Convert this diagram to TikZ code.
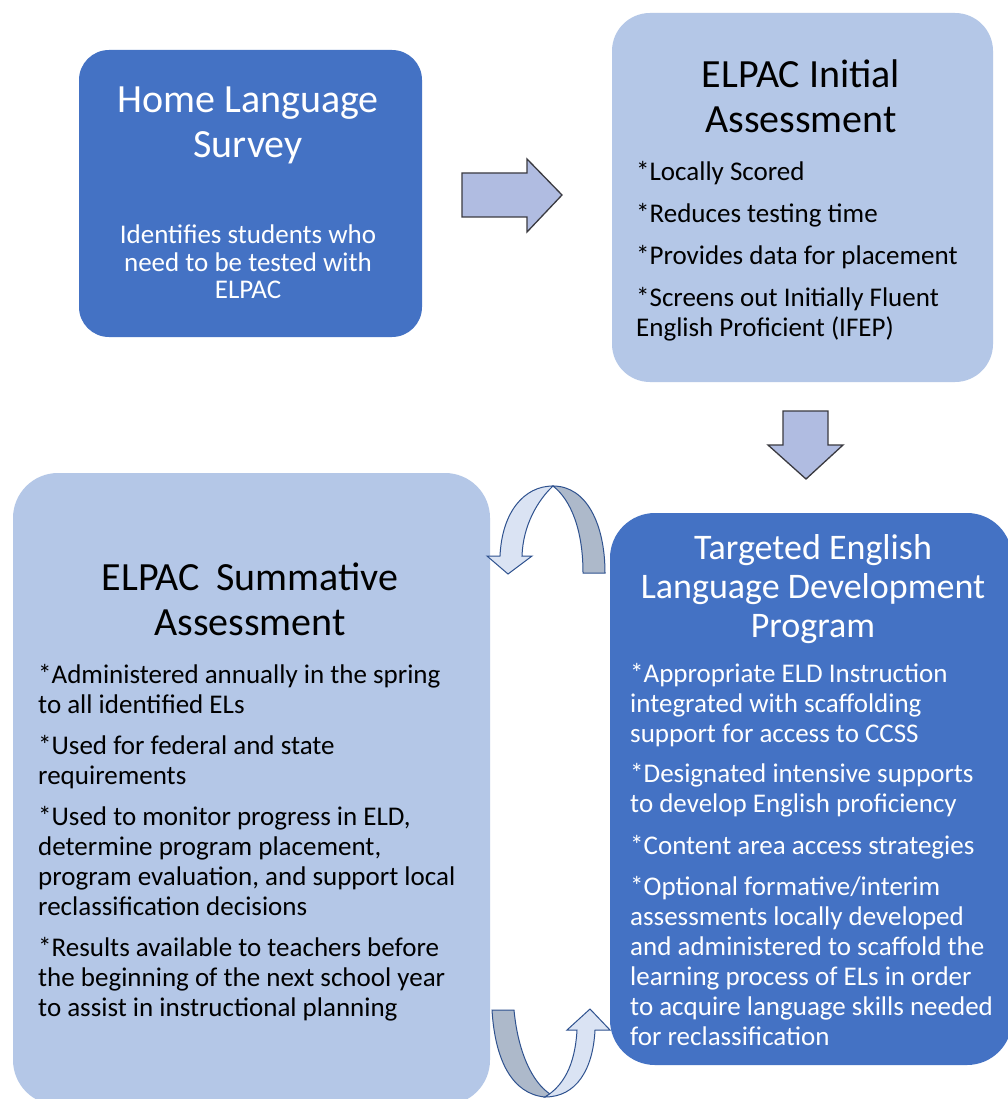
\documentclass[tikz,border=0pt]{standalone}
\usepackage{fontspec}
\setmainfont{Carlito}
\definecolor{dkblue}{HTML}{4472C4}
\definecolor{ltblue}{HTML}{B4C7E7}
\definecolor{arrfill}{HTML}{B0BCE1}
\definecolor{arrline}{HTML}{3A3A40}
\definecolor{cfront}{HTML}{DAE3F3}
\definecolor{cback}{HTML}{ADB9CA}
\definecolor{cline}{HTML}{2F528F}
\begin{document}
\begin{tikzpicture}[x=1pt,y=-1pt,
  box/.style={inner sep=0pt, draw=none},
  titletxt/.style={inner sep=0pt, anchor=north, align=center, font=\fontsize{40}{44.5}\selectfont},
  bodytxt/.style={inner sep=0pt, anchor=north west, align=left, font=\fontsize{27}{30}\selectfont},
  blockarrow/.style={fill=arrfill, draw=arrline, line width=1.3pt, line join=miter},
  curvefront/.style={fill=cfront, draw=cline, line width=1pt},
  curveback/.style={fill=cback, draw=cline, line width=1pt}]
\useasboundingbox (0,0) rectangle (1008,1099);
\clip (0,0) rectangle (1008,1099);
\fill[white] (0,0) rectangle (1008,1099);

% boxes
\node[box, fill=dkblue, rounded corners=30pt, minimum width=343pt, minimum height=287pt] (home) at (250.5,193.5) {};
\node[box, fill=ltblue, rounded corners=38pt, minimum width=381pt, minimum height=369pt] (init) at (802.5,197.5) {};
\node[box, fill=ltblue, rounded corners=45pt, minimum width=477pt, minimum height=632pt] (summ) at (251.5,789) {};
\node[box, fill=dkblue, rounded corners=45pt, minimum width=402pt, minimum height=552pt] (eld) at (811,789) {};

% home text
\node[titletxt, text=white] (homeT) at (248,87) {Home Language\\Survey};
\node[inner sep=0pt, anchor=north, align=center, text=white, font=\fontsize{27}{27.5}\selectfont] (homeB) at (248,225) {Identifies students who\\need to be tested with\\ELPAC};

% initial text
\node[titletxt] (initT) at (801,60) {ELPAC Initial\\Assessment};
\node[bodytxt] (initB) at (636,161) {*Locally Scored\\[12pt]*Reduces testing time\\[12pt]*Provides data for placement\\[12pt]*Screens out  Initially Fluent\\English Proficient (IFEP)};

% summative text
\node[titletxt] (summT) at (250,563) {ELPAC\hspace{0.4em}Summative\\Assessment};
\node[bodytxt] (summB) at (38,664) {*Administered annually in the spring\\to all identified ELs\\[11pt]*Used for federal and state\\requirements\\[11pt]*Used to monitor progress in  ELD,\\determine program placement,\\program evaluation, and support local\\reclassification decisions\\[11pt]*Results available to teachers before\\the beginning of  the next school  year\\to assist in  instructional planning};

% targeted text
\node[inner sep=0pt, anchor=north, align=center, text=white, font=\fontsize{36}{39}\selectfont] (eldT) at (813,534) {Targeted English\\Language Development\\Program};
\node[bodytxt, text=white] (eldB) at (630,663) {*Appropriate ELD Instruction\\integrated with scaffolding\\support for access to CCSS\\[10pt]*Designated intensive supports\\to develop English proficiency\\[12pt]*Content area access strategies\\[11pt]*Optional formative/interim\\assessments locally developed\\and administered to scaffold the\\learning process of  ELs in  order\\to acquire language skills needed\\for reclassification};

% straight block arrows
\draw[blockarrow] (462,173) -- (527,173) -- (527,159) -- (562,195) -- (527,232) -- (527,217) -- (462,217) -- cycle;
\draw[blockarrow] (783,411) -- (828,411) -- (828,445) -- (843,445) -- (806,479) -- (768,445) -- (783,445) -- cycle;

% upper curved arrow (from ELD box back to summative box)
\draw[curveback] (553,486) .. controls (587,486) and (605,525) .. (605,573) -- (583,573) .. controls (583,530) and (571,500) .. (553,486) -- cycle;
\draw[curvefront] (500,556) .. controls (502,512) and (524,486) .. (553,486) .. controls (538,500) and (523,525) .. (522,556) -- (532,556) -- (508,574) -- (487,556) -- cycle;

% lower curved arrow (from summative box to ELD box)
\draw[curveback] (492,1010) -- (514,1010) .. controls (518,1052) and (532,1082) .. (550,1094) -- (545,1097) .. controls (512,1094) and (495,1060) .. (492,1010) -- cycle;
\draw[curvefront] (545,1097) .. controls (576,1097) and (593,1070) .. (595,1030) -- (610,1030) -- (590,1009) -- (567,1030) -- (577,1030) .. controls (575,1066) and (563,1086) .. (545,1097) -- cycle;
\end{tikzpicture}
\end{document}
